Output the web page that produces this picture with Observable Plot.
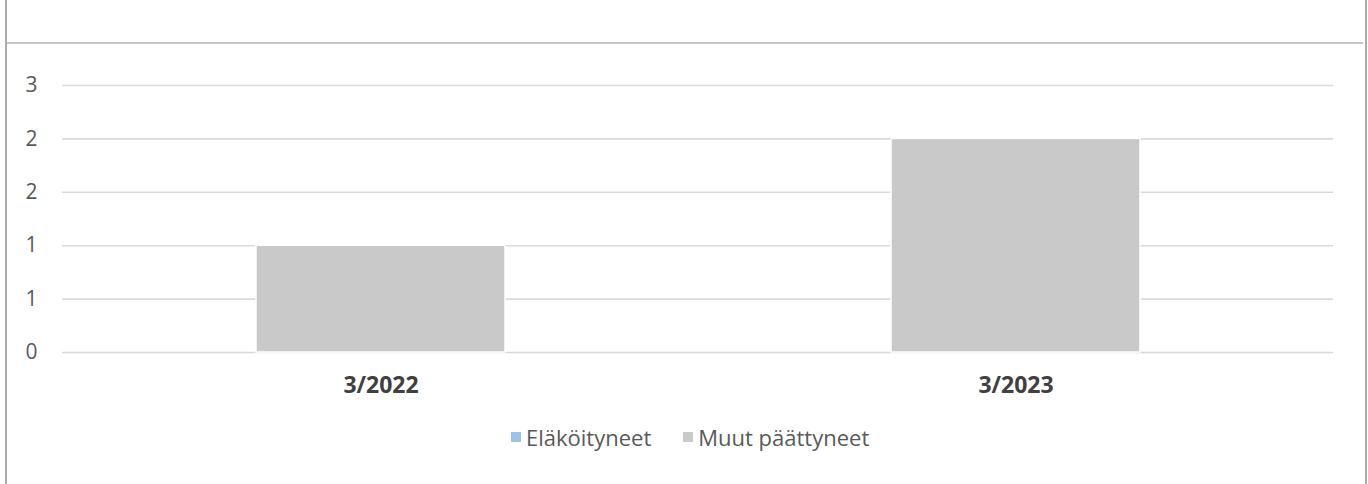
<!DOCTYPE html>
<html><head><meta charset="utf-8">
<script src="https://cdn.jsdelivr.net/npm/d3@7"></script>
<script src="https://cdn.jsdelivr.net/npm/@observablehq/plot@0.6"></script>
<style>
body{margin:0;background:#fff;width:1368px;height:484px;overflow:hidden;position:relative;font-family:"Open Sans",sans-serif}
#frame{position:absolute;left:5px;top:-2px;height:490px;border-left:2px solid #ababab;border-right:2px solid #ababab;box-sizing:border-box;width:1362px}
#hdr{position:absolute;left:7px;top:42px;width:1356px;height:0;border-top:2px solid #c6c6c6}
#chart{position:absolute;left:0;top:0}
#legend{position:absolute;left:511px;top:422px;display:flex;align-items:center;color:#595959;font-size:22px;white-space:nowrap}
.item{display:flex;align-items:center;margin-right:32px}
.sw{width:10px;height:10px;margin-right:5px;display:inline-block}
</style>
</head><body>
<div id="frame"></div>
<div id="hdr"></div>
<div id="chart"></div>
<div id="legend"></div>
<script>
const periods = ["3/2022", "3/2023"];
const seriesNames = ["Eläköityneet", "Muut päättyneet"];
const seriesColors = ["#9dc3e6", "#c9c9c9"];
const elakoityneet = [0, 0];
const muutPaattyneet = [1, 2];
const yTicks = [0, 0.5, 1, 1.5, 2, 2.5];
const yTickLabels = ["0", "1", "1", "2", "2", "3"];

const rows = [];
periods.forEach((p, i) => {
  rows.push({period: p, series: seriesNames[0], value: elakoityneet[i]});
  rows.push({period: p, series: seriesNames[1], value: muutPaattyneet[i]});
});

const chart = Plot.plot({
  width: 1368,
  height: 410,
  marginLeft: 62,
  marginRight: 35,
  marginTop: 85,
  marginBottom: 58,
  style: {fontFamily: '"Open Sans", sans-serif', background: "transparent"},
  x: {domain: periods, paddingInner: 0.608, paddingOuter: 0.304, label: null},
  y: {domain: [0, 2.5], label: null},
  color: {domain: seriesNames, range: seriesColors},
  marks: [
    Plot.ruleY(yTicks, {stroke: "#d9d9d9", strokeWidth: 1.6}),
    Plot.barY(rows, {x: "period", y: "value", fill: "series", stroke: "white", strokeWidth: 1.5}),
    Plot.axisY({ticks: yTicks, tickSize: 0, tickPadding: 25, tickFormat: (d, i) => yTickLabels[i], fontSize: 21, color: "#595959", label: null}),
    Plot.axisX({tickSize: 0, tickPadding: 24, fontSize: 23, fontWeight: "bold", color: "#404040", label: null})
  ]
});
document.getElementById("chart").appendChild(chart);

const legend = document.getElementById("legend");
seriesNames.forEach((name, i) => {
  const it = document.createElement("div");
  it.className = "item";
  const sw = document.createElement("span");
  sw.className = "sw";
  sw.style.background = seriesColors[i];
  it.appendChild(sw);
  const t = document.createElement("span");
  t.textContent = name;
  it.appendChild(t);
  legend.appendChild(it);
});
</script>
</body></html>
